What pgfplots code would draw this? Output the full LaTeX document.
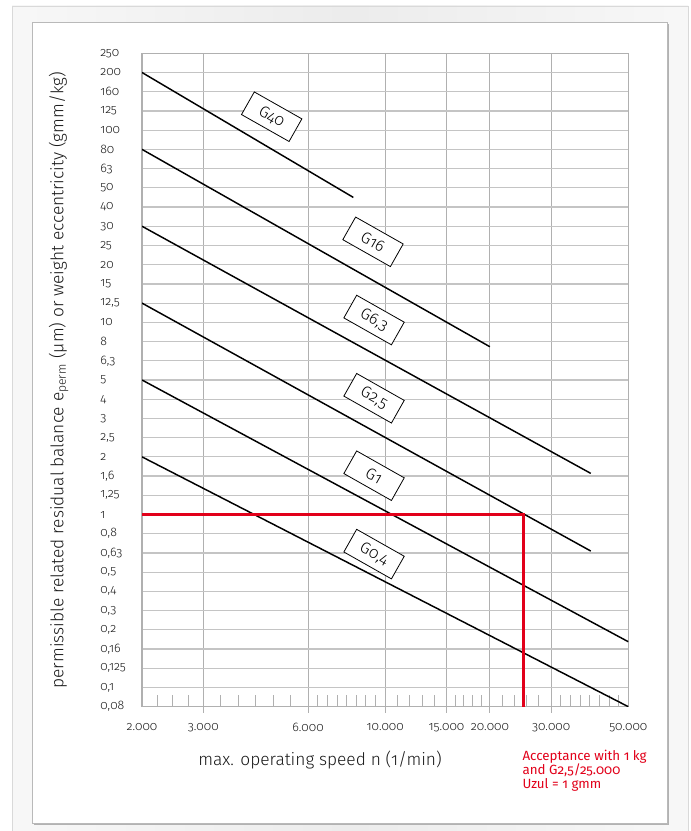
\documentclass[border=0pt]{standalone}
\usepackage{fontspec}
\setmainfont{Fira Sans}[Numbers=OldStyle, UprightFont=* Light, ItalicFont=* Light Italic, BoldFont=* Regular]
\newfontfamily\regfont{Fira Sans}[Numbers=OldStyle]
\usepackage{pgfplots}
\pgfplotsset{compat=1.18}
\definecolor{accred}{RGB}{226,0,26}
\definecolor{gridgray}{RGB}{176,176,176}
\definecolor{hgrid}{RGB}{196,196,196}
\tikzset{glabel/.style={draw=black, fill=white, rotate=-29.5, minimum width=41pt, minimum height=19.5pt, inner sep=1pt, line width=0.6pt, font=\fontsize{12}{14}\selectfont}}
\begin{document}
\begin{tikzpicture}
\useasboundingbox (0,0) rectangle (518.25pt,623.25pt);
\fill[white] (0,0) rectangle (518.25pt,623.25pt);
\shade[left color=gray!6, right color=gray!6, middle color=gray!15] (9pt,-2pt) rectangle (516pt,618.75pt);
\draw[gray!30, line width=0.6pt] (9pt,-2pt) rectangle (516pt,618.75pt);
\fill[gray!60] (25.2pt,4.8pt) rectangle (501.5pt,605.5pt);
\draw[fill=white, draw=gray!55, line width=0.6pt] (24pt,6pt) rectangle (500.25pt,606.75pt);
\begin{axis}[
  at={(106.5pt,93.225pt)}, anchor=south west,
  scale only axis, width=364.725pt, height=490.05pt,
  xmode=log, log basis x=10,
  xmin=2000, xmax=50000, ymin=0, ymax=34,
  xtick={3000,6000,10000,15000,20000,30000},
  xticklabels={3.000,6.000,10.000,15.000,20.000,30.000},
  extra x ticks={2000,50000},
  extra x tick labels={2.000,50.000},
  extra x tick style={major tick length=0pt, xmajorgrids=false},
  minor xtick={2213,2449,2711,3367,3780,4243,4762,5345,6395,6817,7267,7746,8257,8801,9382,10845,11762,12754,13832,15888,16829,17826,18881,21689,23525,25508,27663,31975,34086,36337,38730,41285,44005,46910},
  ytick={0,...,34},
  yticklabels={{0,08},{0,1},{0,125},{0,16},{0,2},{0,3},{0,4},{0,5},{0,63},{0,8},1,{1,25},{1,6},2,{2,5},3,4,5,{6,3},8,10,{12,5},15,20,25,30,40,50,63,80,100,125,160,200,250},
  xmajorgrids, ymajorgrids,
  x grid style={gridgray, line width=0.6pt},
  y grid style={hgrid, line width=0.9pt},
  tick align=inside, major tick length=-4.5pt, minor tick length=9pt,
  xtick pos=bottom,
  ytick style={draw=none},
  x tick style={gridgray, line width=0.6pt},
  axis line style={gridgray, line width=0.8pt},
  ticklabel style={font=\fontsize{9.3}{11}\selectfont, text=black!90},
  xticklabel style={yshift=-9pt},
  yticklabel style={anchor=west, xshift=-31.5pt, inner sep=0pt},
]
\addplot[black, line width=1.1pt] coordinates {(2000,33) (8100,26.5)};
\addplot[black, line width=1.1pt] coordinates {(2000,29) (20000,18.73)};
\addplot[black, line width=1.1pt] coordinates {(2000,25) (39000,12.14)};
\addplot[black, line width=1.1pt] coordinates {(2000,21) (39000,8.1)};
\addplot[black, line width=1.1pt] coordinates {(2000,17) (50000,3.38)};
\addplot[black, line width=1.1pt] coordinates {(2000,13) (50000,0)};
\addplot[accred, line width=1.9pt] coordinates {(2000,10) (25000,10) (25000,0)};
\node[glabel] at (axis cs:4718,30.70) {G40};
\node[glabel] at (axis cs:9226,24.19) {G16};
\node[glabel] at (axis cs:9290,20.12) {G6,3};
\node[glabel] at (axis cs:9290,16.05) {G2,5};
\node[glabel] at (axis cs:9290,12.02) {G1};
\node[glabel] at (axis cs:9290,7.94) {G0,4};
\end{axis}
\node[font=\fontsize{13}{15}\selectfont, text=black!90] at (240pt,53.25pt) {max. operating speed n (1/min)};
\node[rotate=90, font=\fontsize{13}{15}\selectfont, text=black!90] at (44pt,338pt) {permissible related residual balance e\textsubscript{perm} (µm) or weight eccentricity (gmm/kg)};
\node[anchor=north west, align=left, text=accred, font=\regfont\fontsize{10}{10.6}\selectfont, inner sep=0pt] at (391.7pt,61pt) {Acceptance with 1 kg\\and G2,5/25.000\\Uzul = 1 gmm};
\end{tikzpicture}
\end{document}
